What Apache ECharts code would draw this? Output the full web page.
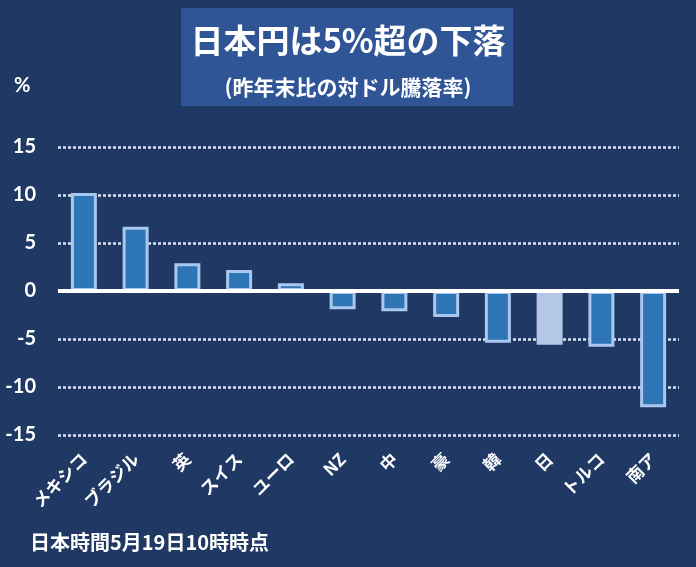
<!DOCTYPE html>
<html><head><meta charset="utf-8">
<script src="https://cdn.jsdelivr.net/npm/echarts@6/dist/echarts.min.js"></script>
<style>html,body{margin:0;padding:0;background:#203864;}#c{width:696px;height:567px;}</style>
</head><body><div id="c"></div>
<script>
const categories = ['メキシコ','ブラジル','英','スイス','ユーロ','NZ','中','豪','韓','日','トルコ','南ア'];
const values = [10.2, 6.7, 2.9, 2.2, 0.8, -1.9, -2.1, -2.7, -5.4, -5.6, -5.8, -12.1];
const highlight = '日';
const yTicks = {min: -15, max: 15, interval: 5};
const titleText = '日本円は5%超の下落';
const subText = '(昨年末比の対ドル騰落率)';
const noteText = '日本時間5月19日10時時点';
const unitText = '%';

const JP = '"Noto Sans CJK JP", sans-serif';
const chart = echarts.init(document.getElementById('c'));
const data = categories.map((c, i) => ({
  value: values[i],
  itemStyle: c === highlight ? {color: '#b4c7e7', borderColor: '#b4c7e7', borderWidth: 3}
                            : {color: '#2e75b6', borderColor: '#a9c8ee', borderWidth: 3}
}));
chart.setOption({
  backgroundColor: '#203864',
  animation: false,
  graphic: [
    {type: 'rect', left: 181, top: 8, shape: {width: 332, height: 98}, style: {fill: '#2f5597'}, z: 0},
    {type: 'text', left: 'center', top: 24, style: {text: titleText, fill: '#fff', font: 'bold 33px ' + JP}, z: 2},
    {type: 'text', left: 'center', top: 77, style: {text: subText, fill: '#fff', font: 'bold 21px ' + JP}, z: 2},
    {type: 'text', left: 14, top: 76, style: {text: unitText, fill: '#fff', font: 'bold 20px Lato, sans-serif'}, z: 2},
    {type: 'text', left: 30, top: 532, style: {text: noteText, fill: '#fff', font: 'bold 20px ' + JP}, z: 2}
  ],
  grid: {left: 58, right: 17, top: 147, bottom: 132},
  xAxis: {
    type: 'category', data: categories,
    axisLine: {show: false, onZero: false}, axisTick: {show: false},
    axisLabel: {rotate: 45, margin: 21, color: '#fff', fontFamily: JP, fontWeight: 'bold', fontSize: 17, interval: 0}
  },
  yAxis: {
    type: 'value', min: yTicks.min, max: yTicks.max, interval: yTicks.interval,
    axisLine: {show: false}, axisTick: {show: false},
    axisLabel: {color: '#fff', fontFamily: 'Lato, sans-serif', fontWeight: 'bold', fontSize: 20, margin: 22},
    splitLine: {lineStyle: {color: '#dbe3f0', width: 2.5, type: [3, 2]}}
  },
  series: [{
    type: 'bar', data: data, barWidth: 26,
    markLine: {
      silent: true, symbol: 'none', label: {show: false},
      lineStyle: {color: '#fff', width: 4, type: 'solid'},
      data: [{yAxis: 0}]
    }
  }]
});
</script></body></html>
